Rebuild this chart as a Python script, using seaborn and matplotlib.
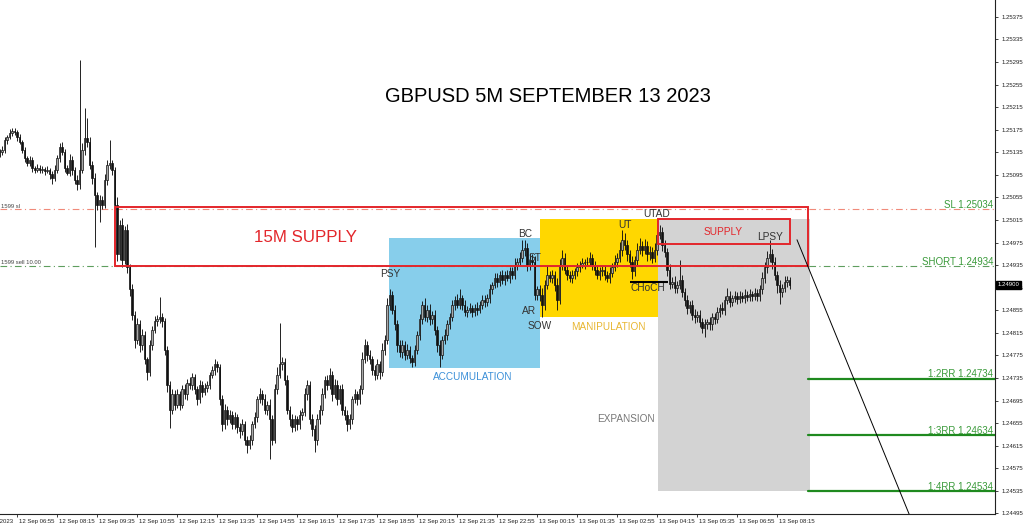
import numpy as np
import pandas as pd
import matplotlib
matplotlib.use("Agg")
import matplotlib.pyplot as plt
import matplotlib.transforms as mtransforms
from matplotlib.patches import Rectangle
import seaborn as sns

# ---------------- data (prices in points above 1.24000) ----------------
BASE = 1.24
PT = 1e-5
first_open_pts = 1130

close_pts = [
    1136, 1139, 1157, 1162, 1170, 1173, 1171, 1162, 1153, 1139,
    1125, 1116, 1122, 1108, 1104, 1108, 1104, 1106, 1102, 1104,
    1097, 1090, 1104, 1125, 1145, 1136, 1108, 1099, 1122, 1104,
    1086, 1078, 1104, 1139, 1161, 1153, 1113, 1090, 1060, 1042,
    1051, 1042, 1086, 1113, 1116, 1104, 1042, 954, 1007, 945,
    998, 931, 892, 847, 803, 830, 794, 812, 768, 746,
    794, 821, 836, 839, 843, 836, 785, 723, 679, 706,
    688, 706, 688, 715, 706, 727, 723, 736, 715, 697,
    723, 711, 718, 723, 741, 750, 759, 754, 697, 653,
    679, 662, 670, 653, 666, 648, 641, 653, 626, 617,
    626, 653, 666, 697, 706, 697, 679, 688, 662, 626,
    715, 741, 759, 764, 732, 679, 662, 648, 662, 653,
    670, 675, 706, 723, 662, 644, 626, 662, 679, 706,
    732, 723, 741, 706, 723, 697, 715, 679, 670, 653,
    662, 697, 706, 697, 715, 768, 794, 776, 768, 750,
    741, 759, 746, 785, 803, 865, 883, 856, 830, 794,
    781, 794, 776, 785, 771, 764, 785, 812, 839, 865,
    843, 856, 839, 847, 821, 794, 776, 803, 812, 830,
    843, 865, 874, 865, 877, 865, 852, 856, 859, 852,
    859, 856, 865, 874, 870, 877, 892, 900, 913, 906,
    917, 909, 918, 913, 924, 918, 936, 941, 948, 962,
    966, 936, 945, 941, 883, 892, 883, 865, 900, 918,
    913, 917, 900, 874, 936, 948, 927, 918, 913, 917,
    924, 931, 936, 938, 940, 941, 948, 936, 927, 918,
    924, 927, 918, 913, 922, 931, 941, 948, 962, 980,
    971, 954, 941, 924, 945, 962, 969, 962, 969, 954,
    959, 948, 962, 989, 994, 971, 959, 927, 902, 906,
    895, 900, 909, 888, 874, 859, 865, 847, 843, 847,
    834, 824, 830, 834, 830, 843, 839, 852, 859, 856,
    874, 881, 870, 877, 881, 875, 881, 877, 883, 879,
    884, 881, 886, 881, 892, 913, 931, 948, 954, 941,
    918, 900, 888, 895, 906, 909, 900,
]

up_wick_pts = [
    5, 8, 6, 4, 7, 5, 6, 3, 5, 4,
    6, 4, 7, 5, 3, 6, 4, 5, 3, 6,
    4, 5, 8, 6, 7, 9, 5, 4, 10, 6,
    5, 8, 195, 12, 53, 35, 9, 6, 8, 5,
    9, 7, 10, 8, 41, 6, 5, 14, 8, 12,
    7, 10, 6, 9, 7, 12, 8, 10, 6, 5,
    8, 6, 9, 7, 36, 8, 5, 7, 6, 9,
    7, 10, 6, 8, 9, 7, 10, 8, 6, 5,
    9, 6, 8, 7, 5, 6, 9, 7, 5, 8,
    10, 6, 8, 7, 9, 5, 8, 10, 6, 7,
    8, 6, 9, 7, 12, 8, 10, 6, 9, 7,
    10, 14, 74, 9, 6, 8, 7, 10, 8, 6,
    9, 7, 12, 8, 6, 10, 7, 9, 8, 11,
    7, 9, 12, 6, 10, 8, 7, 9, 6, 8,
    10, 7, 9, 6, 8, 14, 10, 7, 9, 6,
    8, 10, 7, 12, 9, 11, 9, 6, 8, 7,
    9, 8, 6, 10, 7, 5, 8, 6, 9, 7,
    12, 8, 10, 6, 9, 7, 8, 6, 10, 7,
    8, 9, 7, 10, 15, 6, 8, 7, 9, 6,
    7, 10, 6, 8, 9, 7, 10, 6, 8, 9,
    7, 10, 6, 9, 8, 7, 12, 6, 10, 18,
    14, 8, 12, 9, 10, 6, 8, 12, 9, 18,
    7, 9, 8, 12, 10, 14, 8, 6, 7, 9,
    6, 8, 7, 9, 6, 8, 10, 7, 6, 9,
    8, 6, 9, 7, 10, 8, 12, 9, 14, 18,
    12, 9, 8, 10, 7, 12, 15, 9, 12, 8,
    10, 9, 12, 10, 13, 8, 9, 7, 10, 8,
    9, 7, 36, 8, 6, 9, 7, 8, 10, 6,
    8, 7, 9, 6, 10, 8, 7, 9, 8, 10,
    7, 14, 8, 6, 9, 7, 8, 6, 9, 7,
    8, 6, 9, 7, 8, 10, 9, 12, 26, 10,
    8, 6, 9, 7, 10, 6, 5,
]

down_wick_pts = [
    4, 6, 5, 7, 4, 6, 5, 7, 4, 6,
    8, 5, 6, 7, 5, 4, 6, 5, 7, 4,
    9, 12, 6, 5, 7, 6, 8, 5, 6, 9,
    7, 10, 8, 6, 9, 8, 7, 12, 92, 10,
    30, 8, 6, 9, 7, 10, 8, 12, 9, 14,
    8, 10, 12, 9, 14, 8, 12, 10, 9, 14,
    7, 9, 6, 8, 7, 10, 9, 12, 32, 8,
    10, 7, 9, 6, 8, 10, 7, 9, 8, 10,
    7, 9, 6, 8, 7, 6, 9, 8, 10, 12,
    8, 10, 7, 9, 8, 10, 12, 7, 9, 15,
    8, 10, 6, 9, 7, 10, 8, 9, 71, 10,
    7, 8, 6, 9, 10, 8, 12, 9, 7, 10,
    8, 9, 7, 10, 8, 12, 22, 9, 8, 10,
    7, 9, 8, 12, 7, 10, 8, 9, 10, 12,
    8, 9, 7, 10, 8, 9, 7, 10, 8, 9,
    10, 7, 12, 8, 9, 7, 10, 8, 9, 12,
    8, 10, 9, 7, 10, 9, 8, 7, 9, 8,
    7, 9, 10, 8, 9, 12, 21, 8, 7, 9,
    8, 7, 9, 6, 8, 10, 7, 9, 6, 8,
    7, 9, 6, 8, 10, 7, 9, 8, 6, 10,
    8, 7, 9, 6, 10, 8, 7, 9, 6, 8,
    10, 12, 9, 8, 9, 10, 12, 21, 9, 8,
    7, 9, 10, 18, 8, 10, 7, 9, 8, 10,
    7, 9, 8, 6, 9, 7, 8, 10, 9, 7,
    9, 8, 10, 7, 9, 8, 7, 9, 8, 10,
    9, 12, 10, 14, 8, 9, 7, 10, 8, 12,
    9, 10, 8, 9, 7, 10, 9, 12, 10, 8,
    9, 10, 8, 9, 12, 10, 8, 9, 10, 8,
    9, 10, 17, 8, 10, 9, 8, 7, 9, 8,
    9, 8, 10, 7, 8, 9, 7, 8, 9, 8,
    7, 9, 8, 10, 9, 8, 10, 9, 8, 12,
    10, 14, 22, 9, 8, 10, 7,
]

# x-axis (bar index) ticks and labels, every 16 bars (80 min)
tick_bars = [7, 23, 39, 55, 71, 87, 103, 119, 135, 151,
             167, 183, 199, 215, 231, 247, 263, 279, 295, 311]
tick_labels = ["12 Sep 06:55", "12 Sep 08:15", "12 Sep 09:35", "12 Sep 10:55",
               "12 Sep 12:15", "12 Sep 13:35", "12 Sep 14:55", "12 Sep 16:15",
               "12 Sep 17:35", "12 Sep 18:55", "12 Sep 20:15", "12 Sep 21:35",
               "12 Sep 22:55", "13 Sep 00:15", "13 Sep 01:35", "13 Sep 02:55",
               "13 Sep 04:15", "13 Sep 05:35", "13 Sep 06:55", "13 Sep 08:15"]
price_ticks = [1.24495, 1.24535, 1.24575, 1.24615, 1.24655, 1.24695, 1.24735,
               1.24775, 1.24815, 1.24855, 1.24895, 1.24935, 1.24975, 1.25015,
               1.25055, 1.25095, 1.25135, 1.25175, 1.25215, 1.25255, 1.25295,
               1.25335, 1.25375]

# trade levels
sl_price = 1.25034
short_price = 1.24934
rr_prices = [1.24734, 1.24634, 1.24534]
rr_labels = ["1:2RR 1.24734", "1:3RR 1.24634", "1:4RR 1.24534"]
last_price = 1.24900

# zones: (start bar, end bar, low price, high price)
zone_accum = (155.8, 216.2, 1.24753, 1.24984)
zone_manip = (216.2, 263.4, 1.24844, 1.25017)
zone_expan = (263.4, 324.2, 1.24534, 1.25017)
zone_supply15 = (46.2, 323.4, 1.24934, 1.25039)
zone_supply = (263.4, 316.2, 1.24973, 1.25017)
choch_line = (252.2, 267.4, 1.24906)
proj_line_x = [319.0, 364.2]
proj_line_y = [1.24980, 1.24490]

# ---------------- build OHLC ----------------
c = BASE + np.array(close_pts) * PT
o = np.concatenate([[BASE + first_open_pts * PT], c[:-1]])
h = np.maximum(o, c) + np.array(up_wick_pts) * PT
l = np.minimum(o, c) - np.array(down_wick_pts) * PT
df = pd.DataFrame({"bar": np.arange(len(c)), "open": o, "high": h, "low": l, "close": c})

# ---------------- plot ----------------
sns.set_theme(style="white")
plt.rcParams["font.family"] = ["Liberation Sans", "DejaVu Sans"]

fig = plt.figure(figsize=(10.24, 5.28), dpi=100)
ax = fig.add_axes([0, 14 / 528, 995 / 1024, 514 / 528])
ax.set_facecolor("white")

def zone_rect(z, **kw):
    x0, x1, y0, y1 = z
    return Rectangle((x0, y0), x1 - x0, y1 - y0, **kw)

ax.add_patch(zone_rect(zone_accum, facecolor="#87ceeb", edgecolor="none", zorder=1))
ax.add_patch(zone_rect(zone_manip, facecolor="#ffd700", edgecolor="none", zorder=1))
ax.add_patch(zone_rect(zone_expan, facecolor="#d3d3d3", edgecolor="none", zorder=1))

# level lines
ax.axhline(sl_price, color="#f08a7a", lw=0.8, ls=(0, (6, 3, 1, 3)), zorder=2)
ax.axhline(short_price, color="#5e9e5e", lw=0.8, ls=(0, (6, 3, 1, 3)), zorder=2)
for p in rr_prices:
    sns.lineplot(x=[zone_expan[1] - 0.8, 400], y=[p, p], ax=ax, color="#1f8a1f", lw=1.6, zorder=2)

# candles
bull = df["close"] >= df["open"]
ax.vlines(df["bar"], df["low"], df["high"], color="#111111", lw=0.65, zorder=3)
body_bottom = np.minimum(df["open"], df["close"])
body_h = np.maximum(np.abs(df["close"] - df["open"]), 1.2 * PT)
ax.bar(df["bar"], body_h, bottom=body_bottom, width=0.72,
       color=np.where(bull, "#a8a8a8", "#111111"), edgecolor="#111111",
       linewidth=0.5, zorder=4)

# red boxes
ax.add_patch(zone_rect(zone_supply15, fill=False, edgecolor="#e3262b", lw=1.4, zorder=5))
ax.add_patch(zone_rect(zone_supply, fill=False, edgecolor="#e3262b", lw=1.4, zorder=5))

# CHoCH line and projection
ax.hlines(choch_line[2], choch_line[0], choch_line[1], color="black", lw=1.5, zorder=5)
sns.lineplot(x=proj_line_x, y=proj_line_y, ax=ax, color="black", lw=0.7, zorder=5)

# texts
lab_kw = dict(fontsize=7.3, color="#333333", ha="center", va="center", zorder=6)
ax.text(156.2, 1.24920, "PSY", **lab_kw)
ax.text(210.2, 1.24991, "BC", **lab_kw)
ax.text(214.4, 1.24947, "ST", **lab_kw)
ax.text(211.8, 1.24853, "AR", **lab_kw)
ax.text(216.2, 1.24828, "SOW", **lab_kw)
ax.text(250.2, 1.25007, "UT", **lab_kw)
ax.text(263.0, 1.25026, "UTAD", **lab_kw)
ax.text(259.4, 1.24895, "CHoCH", **lab_kw)
ax.text(308.2, 1.24985, "LPSY", **lab_kw)
ax.text(289.4, 1.24993, "SUPPLY", fontsize=7.3, color="#e3262b", ha="center", va="center", zorder=6)
ax.text(189.4, 1.24736, "ACCUMULATION", fontsize=7.2, color="#3a8fd8", ha="center", va="center", zorder=6)
ax.text(243.4, 1.24826, "MANIPULATION", fontsize=7.2, color="#e8b630", ha="center", va="center", zorder=6)
ax.text(250.6, 1.24663, "EXPANSION", fontsize=7.2, color="#777777", ha="center", va="center", zorder=6)
ax.text(122.2, 1.24984, "15M SUPPLY", fontsize=12.2, color="#e3262b", ha="center", va="center", zorder=6)

green = "#3a9a3a"
ax.text(397.4, sl_price + 2 * PT, "SL 1.25034", fontsize=7.0, color=green, ha="right", va="baseline", zorder=6)
ax.text(397.4, short_price + 2 * PT, "SHORT 1.24934", fontsize=7.0, color=green, ha="right", va="baseline", zorder=6)
for p, t in zip(rr_prices, rr_labels):
    ax.text(397.4, p + 2 * PT, t, fontsize=7.0, color=green, ha="right", va="baseline", zorder=6)

ax.text(0.6, sl_price + 3 * PT, "1599 sl", fontsize=4.2, color="#444444", ha="left", va="baseline", zorder=6)
ax.text(0.6, short_price + 3 * PT, "1599 sell 10.00", fontsize=4.2, color="#444444", ha="left", va="baseline", zorder=6)

fig.text(548 / 1024, 1 - 96 / 528, "GBPUSD 5M SEPTEMBER 13 2023", fontsize=14.5,
         color="black", ha="center", va="center")

# axes formatting
ax.set_xlim(0.2, 398.2)
ax.set_ylim(1.24494, 1.25405)
ax.set_xticks(tick_bars)
ax.set_xticklabels(tick_labels)
ax.set_yticks(price_ticks)
ax.set_yticklabels([f"{p:.5f}" for p in price_ticks])
ax.yaxis.tick_right()
ax.tick_params(axis="x", bottom=True, top=False, direction="out", length=2.5, width=0.6,
               pad=1.2, labelsize=4.3, colors="#222222")
ax.tick_params(axis="y", right=True, left=False, labelright=True, labelleft=False,
               direction="out", length=2.5, width=0.6, pad=2, labelsize=4.3, colors="#222222")
offset = mtransforms.ScaledTranslation(2 / 100, 0, fig.dpi_scale_trans)
for lab in ax.get_xticklabels():
    lab.set_horizontalalignment("left")
    lab.set_transform(lab.get_transform() + offset)
for side in ["top", "left"]:
    ax.spines[side].set_visible(False)
for side in ["right", "bottom"]:
    ax.spines[side].set_visible(True)
    ax.spines[side].set_color("#222222")
    ax.spines[side].set_linewidth(0.8)
ax.set_xlabel("")
ax.set_ylabel("")
ax.grid(False)

# first date label, partly off the left edge as in the original chart
fig.text(13 / 1024, 7 / 528, "12 Sep 2023", fontsize=4.3, color="#222222", ha="right", va="center")

blend = mtransforms.blended_transform_factory(ax.transAxes, ax.transData)
ax.text(1.003, last_price, "1.24900", transform=blend, fontsize=4.3, color="white",
        ha="left", va="center", clip_on=False, zorder=10,
        bbox=dict(facecolor="black", edgecolor="black", boxstyle="square,pad=0.25"))

fig.savefig("out.png", dpi=100, facecolor="white")
